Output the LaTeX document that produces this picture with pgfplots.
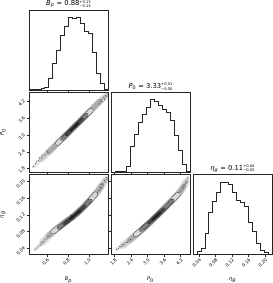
\documentclass[border=0pt]{standalone}
\usepackage{fontspec}
\setmainfont{DejaVu Sans}
\usepackage{pgfplots}
\pgfplotsset{compat=1.18}
\newcommand{\ud}[2]{\rlap{\raisebox{0.78ex}{\fontsize{3.7}{4}\selectfont #1}}\raisebox{-0.38ex}{\fontsize{3.7}{4}\selectfont #2}}
% contour: black width, fill width, fill colour, coordinates
\newcommand{\cont}[4]{%
  \addplot[black!90, line width=#1, line cap=round, line join=round, smooth] coordinates {#4};
  \addplot[#3, line width=#2, line cap=round, line join=round, smooth] coordinates {#4};}
\newcommand{\cloud}[3]{%
  \addplot[black!60, line width=#1, opacity=#2, line cap=round, line join=round, smooth] coordinates {#3};}
\newcommand{\pts}[1]{%
  \addplot[only marks, mark=*, mark size=0.35bp, draw=none, fill=black!70, opacity=0.45] coordinates {#1};}
\pgfplotsset{
  cp/.style={scale only axis, width=79bp, height=80bp, anchor=south west,
    axis line style={black!85, line width=0.45bp},
    tick style={black!85, line width=0.45bp},
    major tick length=2.2bp, tick align=outside,
    xtick pos=left, ytick pos=left,
    ticklabel style={font=\fontsize{4.5}{5}\selectfont, inner sep=0.8bp},
    xticklabel style={rotate=45, anchor=north east},
    yticklabel style={rotate=45, anchor=south east},
    title style={font=\fontsize{6.8}{8}\selectfont, inner sep=0.5bp, yshift=-4.6pt},
    label style={font=\fontsize{5}{6}\selectfont},
    xlabel style={at={(axis description cs:0.5,-0.32)}, anchor=center},
    ylabel style={at={(axis description cs:-0.33,0.5)}, anchor=center},
    every axis plot/.append style={mark=none},
  },
  hist/.style={cp, ymin=0, ymax=110, ytick=\empty, xticklabels={}},
  hl/.style={const plot mark left, black!85, line width=0.7bp},
  colB/.style={xmin=0.428, xmax=1.184, xtick={0.6,0.8,1.0}},
  colP/.style={xmin=1.665, xmax=4.538, xtick={1.8,2.4,3.0,3.6,4.2}},
  colE/.style={xmin=0.025, xmax=0.217, xtick={0.04,0.08,0.12,0.16,0.20}},
  rowP/.style={ymin=1.665, ymax=4.538, ytick={1.8,2.4,3.0,3.6,4.2}},
  rowE/.style={ymin=0.025, ymax=0.217, ytick={0.04,0.08,0.12,0.16,0.20}},
}
\begin{document}
\begin{tikzpicture}
\path[use as bounding box] (0,0) rectangle (273bp,283bp);

% ---------- histogram B_p
\begin{axis}[hist, colB, at={(29bp,193bp)},
  title={\textit{B}\textsubscript{\textit{p}} = 0.88\ud{+0.13}{−0.13}}]
\addplot[hl] coordinates {(0.428,0) (0.428,0.5) (0.4658,1) (0.5036,1.5) (0.5414,2) (0.5792,4)
 (0.617,16) (0.6548,36) (0.6926,55) (0.7304,75) (0.7682,88) (0.806,100) (0.8438,98)
 (0.8816,100) (0.9194,91) (0.9572,80) (0.995,78) (1.0328,52) (1.0706,23) (1.1084,9)
 (1.1462,1.5) (1.184,1.5) (1.184,0)};
\end{axis}

% ---------- B_p vs P_0
\begin{axis}[cp, colB, rowP, at={(29bp,110.7bp)}, xticklabels={},
  yticklabels={1.8,2.4,3.0,3.6,4.2}, ylabel={\textit{P}\textsubscript{0}}]
\cloud{3.5bp}{0.2}{(0.47,1.86) (1.175,4.45)}
\cloud{6.5bp}{0.22}{(0.55,2.15) (1.16,4.40)}
\cloud{6bp}{0.3}{(0.62,2.40) (1.10,4.20)}
\pts{(0.47,1.88) (0.49,1.97) (0.50,2.05) (0.52,2.08) (0.53,2.18) (0.55,2.19) (0.56,2.28) (0.58,2.30) (0.60,2.42) (0.61,2.38)
 (1.10,4.12) (1.12,4.28) (1.13,4.20) (1.14,4.36) (1.15,4.27) (1.16,4.41) (1.17,4.40) (1.18,4.47) (1.11,4.22) (1.15,4.33)}
\cont{4.8bp}{4.1bp}{gray!30}{(0.704,2.71) (1.021,3.88)}
\cont{3.6bp}{2.9bp}{black!50}{(0.744,2.856) (0.981,3.734)}
\cont{2.4bp}{1.7bp}{black!72}{(0.783,3.00) (0.942,3.59)}
\cont{1.3bp}{0.6bp}{black!88}{(0.823,3.15) (0.902,3.44)}
\end{axis}

% ---------- B_p vs eta_g
\begin{axis}[cp, colB, rowE, at={(29bp,28.4bp)},
  xticklabels={0.6,0.8,1.0}, yticklabels={0.04,0.08,0.12,0.16,0.20},
  xlabel={\textit{B}\textsubscript{\textit{p}}}, ylabel={\textit{η}\textsubscript{\textit{g}}}]
\cloud{3.5bp}{0.2}{(0.486,0.037) (0.56,0.055) (0.642,0.076) (0.75,0.098) (0.868,0.120) (0.97,0.145) (1.079,0.175) (1.13,0.193) (1.176,0.210)}
\cloud{7bp}{0.22}{(0.56,0.055) (0.642,0.076) (0.75,0.098) (0.868,0.120) (0.97,0.145) (1.079,0.175) (1.16,0.204)}
\cloud{6bp}{0.3}{(0.62,0.071) (0.75,0.098) (0.868,0.120) (0.97,0.145) (1.079,0.175) (1.12,0.19)}
\pts{(0.49,0.038) (0.51,0.041) (0.52,0.046) (0.54,0.048) (0.55,0.054) (0.57,0.056) (0.58,0.062) (0.60,0.063) (0.61,0.069) (0.63,0.070)
 (1.10,0.178) (1.11,0.186) (1.12,0.184) (1.13,0.196) (1.14,0.192) (1.15,0.203) (1.16,0.199) (1.17,0.210) (1.175,0.205) (1.12,0.193)}
\cont{5.0bp}{4.3bp}{gray!30}{(0.658,0.080) (0.76,0.099) (0.868,0.120) (0.97,0.143) (1.063,0.170)}
\cont{3.8bp}{3.1bp}{black!50}{(0.71,0.089) (0.79,0.104) (0.868,0.120) (0.94,0.136) (1.014,0.155)}
\cont{2.5bp}{1.8bp}{black!72}{(0.763,0.099) (0.868,0.120) (0.965,0.142)}
\cont{1.3bp}{0.6bp}{black!88}{(0.815,0.109) (0.868,0.120) (0.917,0.131)}
\end{axis}

% ---------- histogram P_0
\begin{axis}[hist, colP, at={(111bp,110.7bp)},
  title={\textit{P}\textsubscript{0} = 3.33\ud{+0.51}{−0.50}}]
\addplot[hl] coordinates {(1.665,0) (1.665,0.5) (1.8087,1) (1.9523,1) (2.096,1.5) (2.2396,8.5)
 (2.3833,35) (2.5269,52) (2.6706,68) (2.8142,79) (2.9579,89) (3.1015,100) (3.2452,98)
 (3.3888,92) (3.5325,86) (3.6761,82) (3.8198,72) (3.9634,51) (4.1071,30) (4.2507,11)
 (4.3944,1.5) (4.538,1.5) (4.538,0)};
\end{axis}

% ---------- P_0 vs eta_g
\begin{axis}[cp, colP, rowE, at={(111bp,28.4bp)},
  xticklabels={1.8,2.4,3.0,3.6,4.2}, yticklabels={},
  xlabel={\textit{P}\textsubscript{0}}]
\cloud{3.5bp}{0.2}{(1.86,0.037) (2.2,0.052) (2.5,0.068) (2.9,0.091) (3.31,0.117) (3.75,0.146) (4.155,0.174) (4.32,0.190) (4.46,0.210)}
\cloud{7bp}{0.22}{(2.1,0.047) (2.5,0.068) (2.9,0.091) (3.31,0.117) (3.75,0.146) (4.155,0.174) (4.40,0.200)}
\cloud{6bp}{0.3}{(2.35,0.06) (2.9,0.091) (3.31,0.117) (3.75,0.146) (4.155,0.174) (4.30,0.188)}
\pts{(1.87,0.038) (1.93,0.040) (1.98,0.044) (2.04,0.045) (2.09,0.049) (2.14,0.048) (2.20,0.054) (2.26,0.055) (2.32,0.060) (2.38,0.061)
 (4.20,0.178) (4.24,0.185) (4.28,0.183) (4.32,0.193) (4.36,0.191) (4.40,0.200) (4.43,0.198) (4.46,0.209) (4.38,0.196) (4.30,0.188)}
\cont{5.0bp}{4.3bp}{gray!30}{(2.56,0.073) (2.9,0.092) (3.31,0.117) (3.75,0.145) (4.10,0.169)}
\cont{3.8bp}{3.1bp}{black!50}{(2.75,0.084) (3.03,0.100) (3.31,0.117) (3.6,0.135) (3.90,0.155)}
\cont{2.5bp}{1.8bp}{black!72}{(3.03,0.100) (3.31,0.117) (3.6,0.135)}
\cont{1.3bp}{0.6bp}{black!88}{(3.17,0.108) (3.31,0.117) (3.46,0.126)}
\end{axis}

% ---------- histogram eta_g
\begin{axis}[hist, colE, at={(193bp,28.4bp)},
  xticklabels={0.04,0.08,0.12,0.16,0.20},
  xlabel={\textit{η}\textsubscript{\textit{g}}},
  title={\textit{η}\textsubscript{\textit{g}} = 0.11\ud{+0.04}{−0.03}}]
\addplot[hl] coordinates {(0.025,0) (0.025,0.5) (0.0346,4) (0.0442,9) (0.0538,29) (0.0634,58)
 (0.073,73) (0.0826,86) (0.0922,100) (0.1018,100) (0.1114,97) (0.121,85) (0.1306,75)
 (0.1402,72) (0.1498,66) (0.1594,44) (0.169,32) (0.1786,16) (0.1882,6) (0.1978,3)
 (0.2074,0.5) (0.217,0.5) (0.217,0)};
\end{axis}
\end{tikzpicture}
\end{document}
